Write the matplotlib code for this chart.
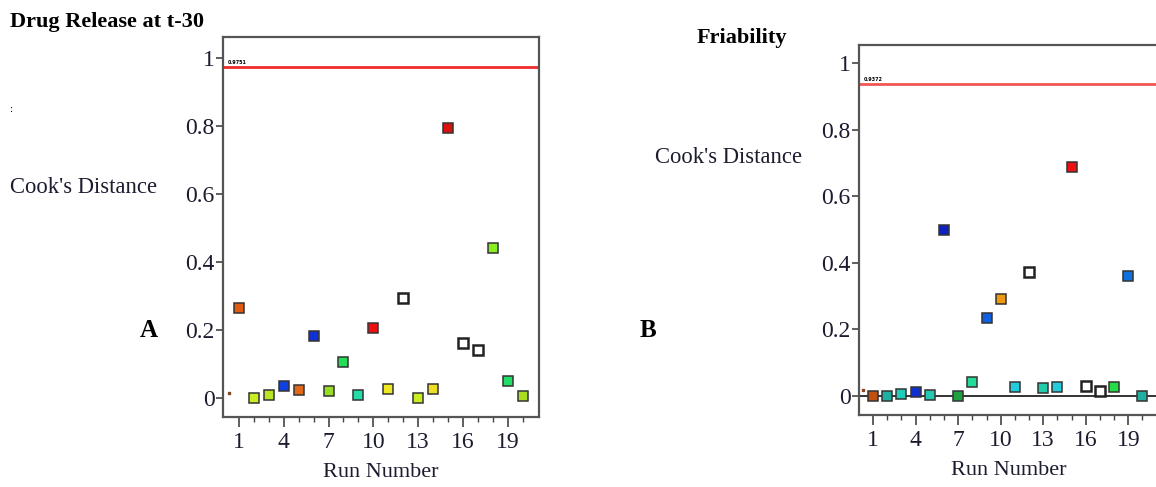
import numpy as np
import matplotlib.pyplot as plt
from matplotlib.ticker import FixedLocator, FuncFormatter

plt.rcParams['font.family'] = 'Liberation Serif'

runs = np.arange(1, 21)

# Cook's distance, drug release at t-30
cd_release = [0.264, 0.001, 0.008, 0.036, 0.023, 0.181, 0.020, 0.105, 0.008, 0.207,
              0.027, 0.295, 0.001, 0.027, 0.793, 0.163, 0.140, 0.440, 0.051, 0.005]
col_release = ['#e05a10', '#c8ee22', '#b8e622', '#1040e0', '#e06818', '#1030d0',
               '#98dd22', '#22dd55', '#22ddaa', '#ee1010', '#eee822', 'white',
               '#c8ee22', '#eedd22', '#dd1010', 'white', 'white', '#88ee22',
               '#22dd66', '#a8dd22']
cut_release = 0.9751

# Cook's distance, friability
cd_friab = [0.001, 0.000, 0.005, 0.012, 0.004, 0.500, 0.000, 0.041, 0.235, 0.290,
            0.026, 0.371, 0.025, 0.026, 0.689, 0.031, 0.015, 0.028, 0.360, 0.000]
col_friab = ['#c05010', '#20b0a0', '#22ccbb', '#1030d0', '#22c8b0', '#1020c0',
             '#20a040', '#22dd99', '#1060e0', '#ee9910', '#22ccdd', 'white',
             '#22ccaa', '#22ccdd', '#ee1010', 'white', 'white', '#22dd44',
             '#1070e0', '#20b0a0']
cut_friab = 0.9372

yticks = [0, 0.2, 0.4, 0.6, 0.8, 1]
xticks = [1, 4, 7, 10, 13, 16, 19]
txt = '#1c1c30'

fig = plt.figure(figsize=(11.56, 4.87), dpi=100)
ax1 = fig.add_axes([0.1929, 0.1437, 0.2734, 0.7803])
ax2 = fig.add_axes([0.7431, 0.1478, 0.2587, 0.7598])


def panel(ax, vals, cols, cut, cut_color, ylim, xlim, origin_y):
    ax.set_xlim(*xlim)
    ax.set_ylim(*ylim)
    ax.axhline(cut, color=cut_color, lw=2.0, zorder=2)
    ax.text(xlim[0] + 0.35, cut + 0.006, '{:.4f}'.format(cut), fontsize=3.5,
            family='DejaVu Sans', fontweight='bold', va='bottom')
    ax.plot([0.3], [origin_y], 's', ms=1.5, color='#884422')
    for x, v, c in zip(runs, vals, cols):
        if c == 'white':
            ax.plot(x, v, 's', ms=6.5, mfc='white', mec='#222222', mew=1.8, zorder=3)
        else:
            ax.plot(x, v, 's', ms=6.5, mfc=c, mec='#333333', mew=1.1, zorder=3)
    ax.yaxis.set_major_locator(FixedLocator(yticks))
    ax.yaxis.set_major_formatter(FuncFormatter(lambda v, p: '{:g}'.format(v)))
    ax.xaxis.set_major_locator(FixedLocator(xticks))
    ax.xaxis.set_minor_locator(FixedLocator(runs))
    ax.tick_params(axis='y', length=5, width=1.2, color='#444444', pad=1,
                   labelsize=17, labelcolor=txt)
    ax.tick_params(axis='x', which='major', length=7, width=1.2, color='#444444',
                   pad=4, labelsize=17, labelcolor=txt)
    ax.tick_params(axis='x', which='minor', length=3.5, width=1.0, color='#444444')
    for s in ax.spines.values():
        s.set_color('#555555')
        s.set_linewidth(1.6)
    ax.set_xlabel('Run Number', fontsize=16, color=txt, labelpad=7)


panel(ax1, cd_release, col_release, cut_release, '#f02a2a',
      (-0.056, 1.062), (-0.07, 21.1), 0.015)
panel(ax2, cd_friab, col_friab, cut_friab, '#f25555',
      (-0.057, 1.054), (0.01, 21.1), 0.018)
ax2.axhline(0, color='#333333', lw=1.4, zorder=1)

fig.text(0.009, 0.955, 'Drug Release at t-30', fontsize=16, fontweight='bold',
         va='center')
fig.text(0.603, 0.922, 'Friability', fontsize=16, fontweight='bold', va='center')
fig.text(0.009, 0.614, "Cook's Distance", fontsize=16.3, va='center', color=txt)
fig.text(0.567, 0.676, "Cook's Distance", fontsize=16.3, va='center', color=txt)
fig.text(0.121, 0.322, 'A', fontsize=18, fontweight='bold', va='center')
fig.text(0.553, 0.322, 'B', fontsize=18, fontweight='bold', va='center')
fig.text(0.008, 0.775, ':', fontsize=8, va='center')

fig.savefig('out.png', dpi=100)
